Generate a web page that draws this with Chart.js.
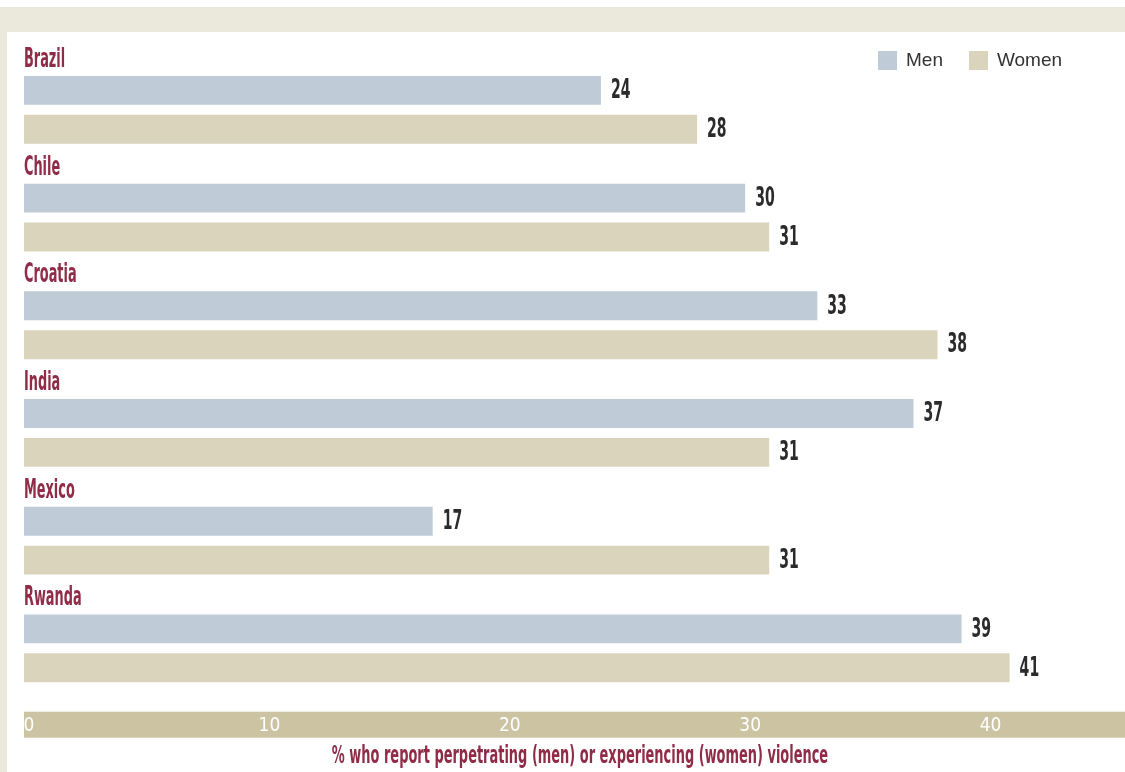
<!DOCTYPE html>
<html>
<head>
<meta charset="utf-8">
<script src="https://cdn.jsdelivr.net/npm/chart.js@4/dist/chart.umd.min.js"></script>
<style>
  html, body { margin: 0; padding: 0; background: #fff; }
  #frame { position: absolute; left: 0; top: 7px; width: 1125px; height: 765px; background: #ebe8dc; }
  #panel { position: absolute; left: 7px; top: 32px; width: 1118px; height: 740px; background: #fff; }
  #chart { position: absolute; left: 0; top: 0; }
</style>
</head>
<body>
<div id="frame"></div>
<div id="panel"></div>
<canvas id="chart" width="1125" height="772"></canvas>
<script>
// ----- Data -----
const countries = ["Brazil", "Chile", "Croatia", "India", "Mexico", "Rwanda"];
const menValues = [24, 30, 33, 37, 17, 39];
const womenValues = [28, 31, 38, 31, 31, 41];
const seriesNames = ["Men", "Women"];
const xTicks = [0, 10, 20, 30, 40];
const axisTitle = "% who report perpetrating (men) or experiencing (women) violence";

// ----- Style -----
const RED = "#902b48";
const MEN_COL = "#bfcbd7";
const WOMEN_COL = "#d9d4bb";
const BAND_COL = "#cbc3a1";
const NARROW = '"Liberation Sans Narrow", "DejaVu Sans Condensed", sans-serif';

// draw squeezed text (source font is very condensed)
function squeezeText(ctx, text, x, y, sx, align) {
  ctx.save();
  ctx.translate(x, y);
  ctx.scale(sx, 1);
  ctx.textAlign = align || "left";
  ctx.fillText(text, 0, 0);
  ctx.restore();
}

// ----- Decorations plugin -----
const decoPlugin = {
  id: "deco",
  beforeDraw(chart) {
    const { ctx, chartArea, scales: { x } } = chart;
    // beige axis band, under the tick labels
    ctx.save();
    ctx.fillStyle = BAND_COL;
    ctx.fillRect(x.getPixelForValue(0), chartArea.bottom + 9.5, chart.width - chartArea.left, 26);
    ctx.restore();
  },
  afterDraw(chart) {
    const { ctx, chartArea } = chart;
    ctx.save();
    ctx.textBaseline = "alphabetic";

    // country names above each group
    const menMeta = chart.getDatasetMeta(0);
    ctx.fillStyle = RED;
    ctx.font = "bold 27px " + NARROW;
    menMeta.data.forEach((bar, i) => {
      const top = bar.y - bar.height / 2;
      squeezeText(ctx, countries[i], chartArea.left, top - 9, 0.53);
    });

    // value labels
    ctx.fillStyle = "#2b2b2b";
    ctx.font = "bold 26px " + NARROW;
    ctx.textBaseline = "middle";
    chart.data.datasets.forEach((ds, di) => {
      chart.getDatasetMeta(di).data.forEach((bar, i) => {
        squeezeText(ctx, String(ds.data[i]), bar.x + 10, bar.y + 1, 0.6);
      });
    });

    // legend (top right)
    ctx.font = "19px 'Liberation Sans', Arial, sans-serif";
    let lx = 878;
    chart.data.datasets.forEach((ds) => {
      ctx.fillStyle = ds.backgroundColor;
      ctx.fillRect(lx, 51, 19, 19);
      ctx.fillStyle = "#333";
      ctx.textAlign = "left";
      ctx.fillText(ds.label, lx + 28, 61);
      lx += 28 + ctx.measureText(ds.label).width + 26;
    });

    // axis title
    ctx.fillStyle = RED;
    ctx.font = "bold 24px " + NARROW;
    squeezeText(ctx, axisTitle, 580, chartArea.bottom + 55, 0.6, "center");
    ctx.restore();
  }
};

// ----- Chart -----
const chart = new Chart(document.getElementById("chart"), {
  type: "bar",
  data: {
    labels: countries,
    datasets: [
      { label: seriesNames[0], data: menValues, backgroundColor: MEN_COL },
      { label: seriesNames[1], data: womenValues, backgroundColor: WOMEN_COL }
    ]
  },
  options: {
    indexAxis: "y",
    responsive: false,
    animation: false,
    categoryPercentage: 0.722,
    barPercentage: 0.744,
    layout: { padding: { left: 24, right: 0, top: 56, bottom: 23 } },
    plugins: { legend: { display: false }, tooltip: { enabled: false } },
    scales: {
      y: { display: false },
      x: {
        min: 0,
        max: 45.8,
        afterBuildTicks: (axis) => { axis.ticks = xTicks.map((v) => ({ value: v })); },
        grid: { display: false, drawTicks: false },
        border: { display: false },
        ticks: {
          color: "#fff",
          padding: 12,
          labelOffset: 5,
          font: { family: NARROW, size: 19 }
        }
      }
    }
  },
  plugins: [decoPlugin]
});
</script>
</body>
</html>
